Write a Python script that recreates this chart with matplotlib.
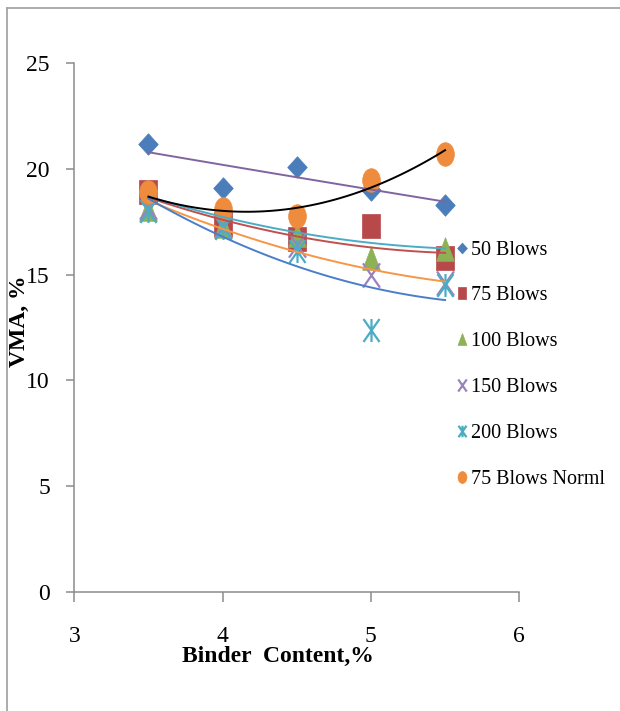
import numpy as np
import matplotlib
matplotlib.use("Agg")
import matplotlib.pyplot as plt
from matplotlib.path import Path
from matplotlib.transforms import Affine2D
from matplotlib.lines import Line2D

# ---------------------------------------------------------
# DATA: VMA (%) vs binder content for each compaction level
# ---------------------------------------------------------
binder = [3.5, 4.0, 4.5, 5.0, 5.5]

vma_50 = [21.2, 19.1, 20.1, 19.0, 18.3]
vma_75 = [18.9, 17.4, 16.7, 17.3, 15.8]
vma_100 = [18.1, 17.3, 16.9, 15.8, 16.2]
vma_150 = [18.2, 17.3, 16.4, 15.0, 14.6]
vma_200 = [18.0, 17.2, 16.1, 12.4, 14.5]
vma_norml = [18.9, 18.1, 17.8, 19.5, 20.7]

series_labels = ["50 Blows", "75 Blows", "100 Blows", "150 Blows",
                 "200 Blows", "75 Blows Norml"]

# trend curves at the same binder contents
trend_purple = [20.8, 20.2, 19.6, 19.05, 18.45]
trend_black = [18.7, 18.0, 18.2, 19.1, 20.9]
trend_cyan = [18.7, 17.75, 17.0, 16.5, 16.25]
trend_red = [18.7, 17.5, 16.85, 16.35, 16.0]
trend_orange = [18.6, 17.0, 16.1, 15.4, 14.6]
trend_blue = [18.6, 16.8, 15.4, 14.4, 13.8]

x_ticks = [3, 4, 5, 6]
y_ticks = [0, 5, 10, 15, 20, 25]

# ---------------------------------------------------------
# Marker shapes (slightly tall, like the spreadsheet export)
# ---------------------------------------------------------
M, L, C = Path.MOVETO, Path.LINETO, Path.CLOSEPOLY
diamond = Path([(0, -1.1), (1, 0), (0, 1.1), (-1, 0), (0, -1.1)], [M, L, L, L, C])
square = Path([(-0.72, -1), (0.72, -1), (0.72, 1), (-0.72, 1), (-0.72, -1)], [M, L, L, L, C])
triangle = Path([(-0.75, -1), (0.75, -1), (0, 1), (-0.75, -1)], [M, L, L, C])
cross = Path([(-0.7, -1), (0.7, 1), (-0.7, 1), (0.7, -1)], [M, L, M, L])
star = Path([(-0.7, -1), (0.7, 1), (-0.7, 1), (0.7, -1), (0, -1), (0, 1)],
            [M, L, M, L, M, L])
ellipse = Path.unit_circle().transformed(Affine2D().scale(0.75, 1.0))

plt.rcParams["font.family"] = ["Liberation Serif", "DejaVu Serif"]

fig = plt.figure(figsize=(6.2, 7.11), dpi=100)
ax = fig.add_axes([0.1198, 0.1678, 0.7177, 0.7430])

styles = [
    (vma_50, diamond, "#4A7DBA", 15.5, True),
    (vma_75, square, "#B8494A", 17.5, True),
    (vma_100, triangle, "#8DB255", 17, True),
    (vma_150, cross, "#9A83BD", 17.5, False),
    (vma_200, star, "#4BACC6", 16.5, False),
    (vma_norml, ellipse, "#EE8B3C", 17, True),
]

handles = []
for (vals, mk, col, ms, filled), lab in zip(styles, series_labels):
    if filled:
        h, = ax.plot(binder, vals, linestyle="none", marker=mk, markersize=ms,
                     markerfacecolor=col, markeredgecolor=col, markeredgewidth=0.5,
                     label=lab, zorder=2)
    else:
        h, = ax.plot(binder, vals, linestyle="none", marker=mk, markersize=ms,
                     markerfacecolor="none", markeredgecolor=col, markeredgewidth=1.6,
                     label=lab, zorder=2)
    handles.append(h)

# smooth trend curves through the trend values
xs = np.linspace(binder[0], binder[-1], 60)
trends = [
    (trend_purple, "#8064A2"),
    (trend_red, "#C0504D"),
    (trend_cyan, "#4BACC6"),
    (trend_orange, "#F79646"),
    (trend_blue, "#4A7EC9"),
    (trend_black, "black"),
]
for vals, col in trends:
    coef = np.polyfit(binder, vals, 2)
    ax.plot(xs, np.polyval(coef, xs), color=col, linewidth=1.4, zorder=3)

ax.set_xlim(3, 6)
ax.set_ylim(0, 25)
ax.set_xticks(x_ticks)
ax.set_yticks(y_ticks)

for side in ["top", "right"]:
    ax.spines[side].set_visible(False)
for side in ["left", "bottom"]:
    ax.spines[side].set_color("#8C8C8C")
    ax.spines[side].set_linewidth(1.1)

ax.tick_params(axis="x", direction="out", length=7, width=1.1, color="#8C8C8C",
               pad=18, labelsize=17)
ax.tick_params(axis="y", direction="out", length=5.5, width=1.1, color="#8C8C8C",
               pad=12, labelsize=17)

ax.set_xlabel("Binder  Content,%", fontsize=17, fontweight="bold", va="center")
ax.xaxis.set_label_coords(277.5 / 620, 1 - 656 / 711, transform=fig.transFigure)
ax.set_ylabel("VMA, %", fontsize=17, fontweight="bold", va="center")
ax.yaxis.set_label_coords(19 / 620, 1 - 321.5 / 711, transform=fig.transFigure)

ax.legend(handles=handles, loc="upper left",
          bbox_to_anchor=(455.7 / 620, 1 - 240.5 / 711),
          bbox_transform=fig.transFigure, frameon=False, fontsize=14.5,
          markerscale=0.5, handlelength=0.6, handletextpad=0.15,
          labelspacing=1.33, borderpad=0, borderaxespad=0)

# chart area border
fig.add_artist(Line2D([7.3 / 620, 7.3 / 620], [0, 1 - 8 / 711],
                      transform=fig.transFigure, color="#A6A6A6", linewidth=1.3))
fig.add_artist(Line2D([7.3 / 620, 1], [1 - 8 / 711, 1 - 8 / 711],
                      transform=fig.transFigure, color="#A6A6A6", linewidth=1.3))

fig.savefig("out.png", dpi=100)
